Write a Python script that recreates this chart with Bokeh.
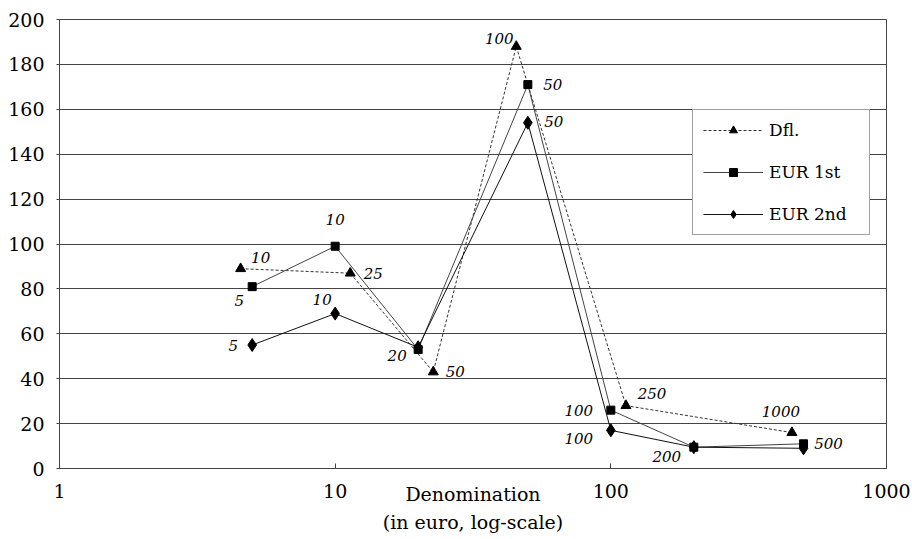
from bokeh.plotting import figure
from bokeh.models import ColumnDataSource, FixedTicker, BasicTickFormatter, Legend
from bokeh.core.properties import value
from bokeh.embed import file_html
from bokeh.resources import INLINE

# ---- data ----
dfl_x = [4.54, 11.34, 22.69, 45.38, 113.45, 453.78]      # guilder notes in euro
dfl_y = [89, 87, 43, 188, 28, 16]
dfl_labels = ["10", "25", "50", "100", "250", "1000"]

eur_x = [5, 10, 20, 50, 100, 200, 500]
eur1_y = [81, 99, 53, 171, 26, 9.5, 11]
eur1_labels = ["5", "10", "20", "50", "100", "200", "500"]
eur2_y = [55, 69, 54, 154, 17, 9.5, 9]
eur2_labels = ["5", "10", "", "50", "100", "", ""]

x_ticks = [1, 10, 100, 1000]
y_ticks = [0, 20, 40, 60, 80, 100, 120, 140, 160, 180, 200]

# label offsets (screen px) - styling only
dfl_dx = [20, 23, 22, -17, 26, -11]
dfl_dy = [-11, 0, 0, -8, -12, -21]
eur1_dx = [-13, 0, -21, 25, -32, -27, 25]
eur1_dy = [14, -27, 6, 0, 0, 9, 0]
eur2_dx = [-19, -13, 0, 26, -32, 0, 0]
eur2_dy = [0, -14, 0, -1, 8, 0, 0]

SERIF = "DejaVu Serif"

p = figure(frame_width=827, frame_height=449, x_axis_type="log",
           x_range=(1, 1000), y_range=(0, 200),
           output_backend="svg", toolbar_location=None,
           min_border_left=59, min_border_top=19, min_border_right=26,
           min_border_bottom=70)

p.background_fill_color = "white"
p.border_fill_color = "white"
p.outline_line_color = "#444444"
p.outline_line_width = 1

p.xgrid.visible = False
p.ygrid.ticker = FixedTicker(ticks=y_ticks)
p.ygrid.grid_line_color = "#444444"
p.ygrid.grid_line_width = 1

p.xaxis.ticker = FixedTicker(ticks=x_ticks)
p.xaxis.formatter = BasicTickFormatter(use_scientific=False)
p.xaxis.major_label_overrides = {t: str(t) for t in x_ticks}
p.yaxis.ticker = FixedTicker(ticks=y_ticks)
for ax in (p.xaxis[0], p.yaxis[0]):
    ax.axis_line_color = "#444444"
    ax.major_tick_line_color = "#444444"
    ax.minor_tick_line_color = None
    ax.major_label_text_font = SERIF
    ax.major_label_text_font_size = "19px"
    ax.major_label_text_color = "black"
p.xaxis.major_tick_in = 5
p.xaxis.major_tick_out = 0
p.xaxis.major_label_standoff = 15
p.yaxis.major_tick_in = 0
p.yaxis.major_tick_out = 3
p.yaxis.major_label_standoff = 12

p.xaxis.axis_label = "Denomination\n(in euro, log-scale)"
p.xaxis.axis_label_text_font = SERIF
p.xaxis.axis_label_text_font_size = "19px"
p.xaxis.axis_label_text_font_style = "normal"
p.xaxis.axis_label_text_color = "black"
p.xaxis.axis_label_text_line_height = 1.3
p.xaxis.axis_label_standoff = -18

src_d = ColumnDataSource(dict(x=dfl_x, y=dfl_y, t=dfl_labels, dx=dfl_dx, dy=dfl_dy))
src_1 = ColumnDataSource(dict(x=eur_x, y=eur1_y, t=eur1_labels, dx=eur1_dx, dy=eur1_dy))
src_2 = ColumnDataSource(dict(x=eur_x, y=eur2_y, t=eur2_labels, dx=eur2_dx, dy=eur2_dy))

ld = p.line("x", "y", source=src_d, line_color="#333333", line_width=1, line_dash="3 2")
sd = p.scatter("x", "y", source=src_d, marker="triangle", size=10,
               fill_color="black", line_color="black")
l1 = p.line("x", "y", source=src_1, line_color="#444444", line_width=1)
s1 = p.scatter("x", "y", source=src_1, marker="square", size=8,
               fill_color="black", line_color="black")
l2 = p.line("x", "y", source=src_2, line_color="#111111", line_width=1)
s2 = p.scatter("x", "y", source=src_2, marker="diamond", size=13,
               fill_color="black", line_color="black")

for src in (src_d, src_1, src_2):
    p.text("x", "y", text="t", source=src, x_offset="dx", y_offset="dy",
           text_font=value(SERIF), text_font_style="italic",
           text_font_size="15px", text_color="black",
           text_align="center", text_baseline="middle")

legend = Legend(items=[("Dfl.", [ld, sd]), ("EUR 1st", [l1, s1]), ("EUR 2nd", [l2, s2])],
                location=(633, 233))
legend.label_text_font = SERIF
legend.label_text_font_size = "17px"
legend.label_text_color = "black"
legend.glyph_width = 60
legend.glyph_height = 20
legend.label_height = 20
legend.label_width = 90
legend.label_standoff = 6
legend.spacing = 22
legend.padding = 10
legend.margin = 0
legend.border_line_color = "#444444"
legend.border_line_width = 1
legend.background_fill_color = "white"
legend.background_fill_alpha = 1
p.add_layout(legend)

open("out.html", "w").write(file_html(p, INLINE))
